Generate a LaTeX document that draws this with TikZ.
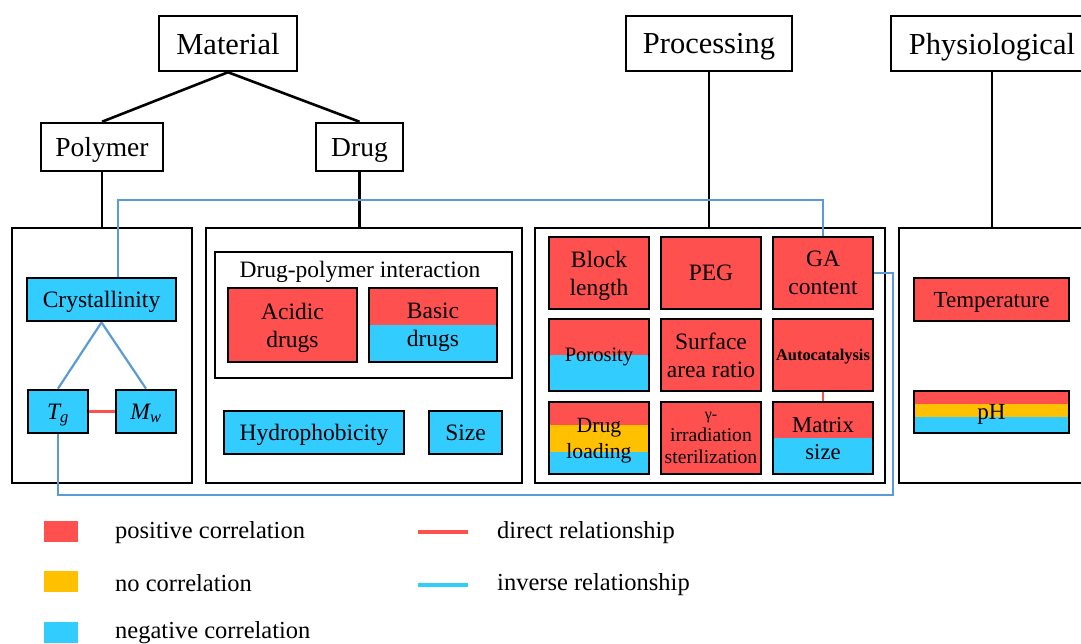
\documentclass[tikz,border=0pt]{standalone}
\usepackage{fontspec}
\setmainfont{Liberation Serif}
\usepackage{tikz}
\usetikzlibrary{calc}
\definecolor{posc}{HTML}{FF5050}
\definecolor{noc}{HTML}{FFC000}
\definecolor{negc}{HTML}{33CCFF}
\definecolor{linkblue}{HTML}{5B9BD5}
\newcommand{\fsz}[2]{\fontsize{#1}{#2}\selectfont}

\begin{document}
\begin{tikzpicture}[x=1pt, y=-1pt,
    hdr/.style={draw, line width=2.5pt, inner sep=0pt, text depth=0pt, font=\fsz{30.5}{36}},
    subhdr/.style={draw, line width=2.5pt, inner sep=0pt, text depth=0pt, font=\fsz{27.5}{32}},
    panel/.style={draw, line width=2.6pt, inner sep=0pt},
    fac/.style={draw, line width=2.8pt, inner sep=0pt, text depth=0pt, align=center, font=\fsz{23.5}{28}},
    cell/.style={minimum width=100pt, minimum height=72pt},
    posbox/.style={fac, fill=posc},
    negbox/.style={fac, fill=negc},
    halfbox/.style={fac, fill=posc, path picture={
        \fill[negc] (path picture bounding box.west) rectangle (path picture bounding box.south east);}},
    tribox/.style 2 args={fac, fill=posc, path picture={
        \fill[noc] ($(path picture bounding box.north west)!#1!(path picture bounding box.south west)$) rectangle (path picture bounding box.south east);
        \fill[negc] ($(path picture bounding box.north west)!#2!(path picture bounding box.south west)$) rectangle (path picture bounding box.south east);}},
    tree/.style={line width=2.6pt},
    invrel/.style={linkblue, line width=2.2pt},
    dirrel/.style={posc, line width=2.6pt},
    legsq/.style={minimum width=34pt, minimum height=21pt, inner sep=0pt},
    legtxt/.style={anchor=base west, inner sep=0pt, font=\fsz{24.5}{28}}]
    \useasboundingbox (0,0) rectangle (1081,644);
    \clip (0,0) rectangle (1081,644);
    % Headers
    \node[hdr, minimum width=138pt, minimum height=55pt] (material) at (228,43.5) {Material};
    \node[subhdr, minimum width=122pt, minimum height=48pt] (polymer) at (102,147) {Polymer};
    \node[subhdr, minimum width=87pt, minimum height=48pt] (drug) at (359.5,147) {Drug};
    \node[hdr, minimum width=166pt, minimum height=55pt] (processing) at (709,43.5) {Processing};
    \node[hdr, minimum width=202pt, minimum height=55pt] (physio) at (992,43.5) {Physiological};
    % Panels
    \node[panel, minimum width=180pt, minimum height=255pt] (polypanel) at (102,355.5) {};
    \node[panel, minimum width=316pt, minimum height=255pt] (drugpanel) at (364,355.5) {};
    \node[panel, minimum width=350pt, minimum height=255pt] (procpanel) at (710,355.5) {};
    \node[panel, minimum width=186pt, minimum height=255pt] (physpanel) at (992,355.5) {};
    % Tree
    \draw[tree] (material.south) -- (polymer.north);
    \draw[tree] (material.south) -- (drug.north);
    \draw[tree] (polymer.south) -- (polypanel.north);
    \draw[tree] (drug.south) -- (drug.south |- drugpanel.north);
    \draw[tree] (processing.south) -- (processing.south |- procpanel.north);
    \draw[tree] (physio.south) -- (physpanel.north);
    % Polymer
    \node[negbox, minimum width=149pt, minimum height=43pt] (cryst) at (101.5,299.5) {Crystallinity};
    \node[negbox, minimum width=60pt, minimum height=43pt] (tg) at (58,411.5) {\itshape T\textsubscript{g}};
    \node[negbox, minimum width=60pt, minimum height=43pt] (mw) at (146,411.5) {\itshape M\textsubscript{w}};
    \draw[invrel] (cryst.south) -- (tg.north);
    \draw[invrel] (cryst.south) -- (mw.north);
    \draw[dirrel] (tg.east) -- (mw.west);
    % Drug
    \node[panel, minimum width=297pt, minimum height=126pt] (dpi) at (363.5,315) {};
    \node[anchor=base, inner sep=0pt, font=\fsz{23.5}{28}] (dpilabel) at (360,278) {Drug-polymer interaction};
    \node[posbox, minimum width=129pt, minimum height=74pt] (acidic) at (292.5,325) {Acidic\\drugs};
    \node[halfbox, minimum width=128pt, minimum height=74pt] (basic) at (433,325) {Basic\\drugs};
    \node[negbox, minimum width=180pt, minimum height=43pt] (hydro) at (314,432.5) {Hydrophobicity};
    \node[negbox, minimum width=73pt, minimum height=43pt] (size) at (465.5,432.5) {Size};
    % Processing
    \node[posbox, cell] (block) at (599,273) {Block\\length};
    \node[posbox, cell] (peg) at (711,273) {PEG};
    \node[posbox, cell] (ga) at (823,273) {GA\\content};
    \node[halfbox, cell, font=\fsz{20.5}{26}] (poro) at (599,355) {Porosity};
    \node[posbox, cell] (surf) at (711,355) {Surface\\area ratio};
    \node[posbox, cell, font=\fsz{16.4}{20}\bfseries] (auto) at (823,355) {Autocatalysis};
    \node[tribox={0.32}{0.69}, cell, font=\fsz{21.7}{26}] (load) at (599,438) {Drug\\loading};
    \node[posbox, cell, font=\fsz{19.6}{22}] (gamma) at (711,438) {{\fsz{16}{17}γ-}\\irradiation\\sterilization};
    \node[halfbox, cell, font=\fsz{22.7}{27}] (matrix) at (823,438) {Matrix\\size};
    \draw[dirrel] (auto.south) -- (matrix.north);
    % Physiological
    \node[posbox, minimum width=155pt, minimum height=43pt, font=\fsz{23}{28}] (temp) at (991.5,299.5) {Temperature};
    \node[tribox={0.31}{0.62}, minimum width=155pt, minimum height=42pt, font=\fsz{23}{28}] (ph) at (991.5,412) {pH};
    % Inverse links
    \coordinate (looptop) at (118,200);
    \coordinate (loopbot) at (893,495);
    \draw[invrel] ([xshift=16.5pt]cryst.north) -- (looptop) -| (ga.north);
    \draw[invrel] (ga.east) -| (loopbot) -| (tg.south);
    % Legend
    \node[legsq, fill=posc] (sqpos) at (61,531) {};
    \node[legsq, fill=noc] (sqno) at (61,581.5) {};
    \node[legsq, fill=negc] (sqneg) at (61,632) {};
    \node[legtxt] (txtpos) at (115,538) {positive correlation};
    \node[legtxt] (txtno) at (115,591) {no correlation};
    \node[legtxt] (txtneg) at (115,638) {negative correlation};
    \coordinate (dirA) at (418,532);
    \coordinate (dirB) at (468,532);
    \coordinate (invA) at (418,585);
    \coordinate (invB) at (468,585);
    \draw[posc, line width=4pt] (dirA) -- (dirB);
    \draw[negc, line width=4pt] (invA) -- (invB);
    \node[legtxt] (txtdir) at (497,538) {direct relationship};
    \node[legtxt] (txtinv) at (497,590) {inverse relationship};
\end{tikzpicture}
\end{document}
